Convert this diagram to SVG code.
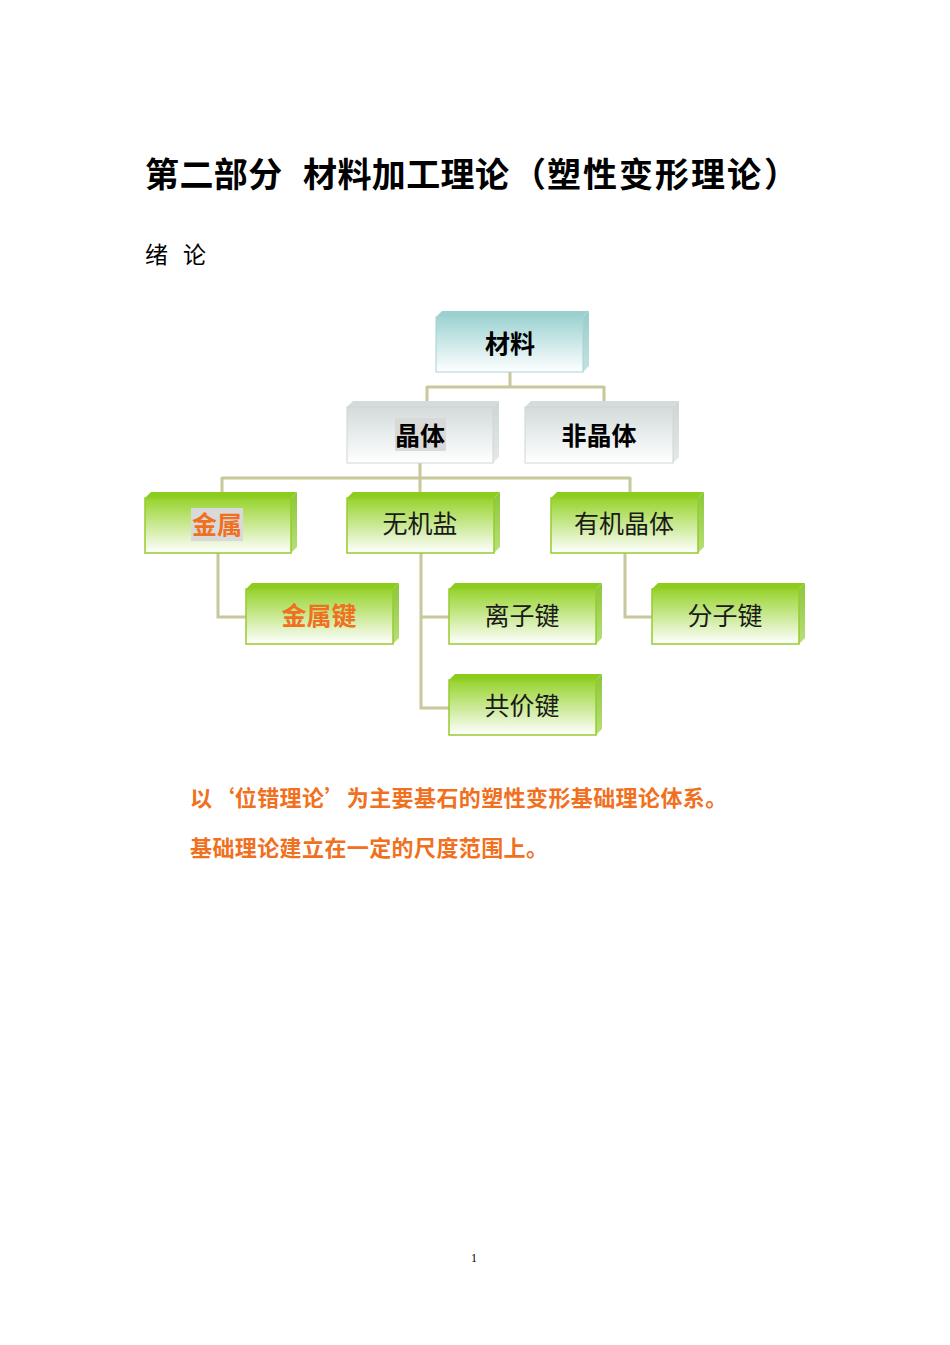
<svg xmlns="http://www.w3.org/2000/svg" width="950" height="1345" viewBox="0 0 950 1345">
<defs>
<linearGradient id="gTeal" x1="0" y1="0" x2="0" y2="1"><stop offset="0" stop-color="#9fd3d3"/><stop offset="1" stop-color="#ffffff"/></linearGradient>
<linearGradient id="gGray" x1="0" y1="0" x2="0" y2="1"><stop offset="0" stop-color="#d3dbdb"/><stop offset="1" stop-color="#ffffff"/></linearGradient>
<linearGradient id="gGreen" x1="0" y1="0" x2="0" y2="1"><stop offset="0" stop-color="#96d22e"/><stop offset="0.15" stop-color="#a6da4c"/><stop offset="1" stop-color="#ffffff"/></linearGradient>
<linearGradient id="gGreenSide" x1="0" y1="0" x2="0" y2="1"><stop offset="0" stop-color="#8cc63a"/><stop offset="1" stop-color="#b8e07a"/></linearGradient>
<linearGradient id="gTealSide" x1="0" y1="0" x2="0" y2="1"><stop offset="0" stop-color="#98cccc"/><stop offset="1" stop-color="#c4e2e2"/></linearGradient>
<linearGradient id="gGraySide" x1="0" y1="0" x2="0" y2="1"><stop offset="0" stop-color="#cdd5d5"/><stop offset="1" stop-color="#e4e9e9"/></linearGradient>
</defs>
<style>
.t{font-family:"Noto Sans CJK SC","Noto Sans CJK JP",sans-serif;}
.ttl{font-size:34px;font-weight:bold;fill:#000;letter-spacing:0.4px;}
.ttl.w{letter-spacing:2px;}
.bx{font-family:"Noto Sans CJK SC",sans-serif;font-size:25px;text-anchor:middle;fill:#1a1a1a;}
.b{font-weight:bold;fill:#000;}
.or{fill:#f0701e;font-weight:bold;}
.body{font-size:22px;font-weight:bold;fill:#f0701e;letter-spacing:0.4px;}
.conn{fill:none;stroke:#c8c89c;stroke-width:3;}
.teal .f{fill:url(#gTeal);stroke:#a8d2d2;stroke-width:1;}
.teal .tp{fill:#9ccfcf;}
.teal .sd{fill:url(#gTealSide);}
.gray .f{fill:url(#gGray);stroke:#d0d6d6;stroke-width:1;}
.gray .tp{fill:#d4dbdb;}
.gray .sd{fill:url(#gGraySide);}
.green .f{fill:url(#gGreen);stroke:#96cc2c;stroke-width:1.5;}
.green .tp{fill:#8ccc1c;}
.green .sd{fill:url(#gGreenSide);}
.hl{fill:#d9d9d9;}
</style>
<rect width="950" height="1345" fill="#ffffff"/>

<text class="t ttl" x="145" y="187">第二部分</text>
<text class="t ttl" x="303" y="187">材料加工理论</text>
<text class="t ttl" x="512" y="187">（</text>
<text class="t ttl w" x="547" y="187">塑性变形理论</text>
<text class="t ttl" x="764" y="187">）</text>
<text class="t" x="145" y="263" font-size="23" fill="#000">绪</text>
<text class="t" x="183" y="263" font-size="23" fill="#000">论</text>

<g id="connectors">
<path class="conn" d="M510 372V387M427 387H604M427 386V401M604 386V401"/>
<path class="conn" d="M420 463V478M222 478H630M222 477V492M420 477V492M630 477V492"/>
<path class="conn" d="M218 553V617H246"/>
<path class="conn" d="M421 553V708H449M421 617H449"/>
<path class="conn" d="M625 553V617H652"/>
</g>

<g id="n-cailiao" class="teal">
<polygon class="tp" points="436,317 442,311 589,311 583,317"/>
<polygon class="sd" points="583,317 589,311 589,366 583,372"/>
<rect class="f" x="436" y="317" width="147" height="55"/>
<text class="bx b" x="510" y="353">材料</text>
</g>
<g id="n-jingti" class="gray">
<polygon class="tp" points="347,407 353,401 499,401 493,407"/>
<polygon class="sd" points="493,407 499,401 499,457 493,463"/>
<rect class="f" x="347" y="407" width="146" height="56"/>
<rect class="hl" x="395" y="418" width="51" height="33"/>
<text class="bx b" x="420" y="445">晶体</text>
</g>
<g id="n-feijingti" class="gray">
<polygon class="tp" points="525,407 531,401 679,401 673,407"/>
<polygon class="sd" points="673,407 679,401 679,457 673,463"/>
<rect class="f" x="525" y="407" width="148" height="56"/>
<text class="bx b" x="599" y="445">非晶体</text>
</g>
<g id="n-jinshu" class="green">
<polygon class="tp" points="145,498 151,492 297,492 291,498"/>
<polygon class="sd" points="291,498 297,492 297,547 291,553"/>
<rect class="f" x="145" y="498" width="146" height="55"/>
<rect class="hl" x="191" y="508" width="52" height="33"/>
<text class="bx or" x="217" y="534">金属</text>
</g>
<g id="n-wujiyan" class="green">
<polygon class="tp" points="347,498 353,492 500,492 494,498"/>
<polygon class="sd" points="494,498 500,492 500,547 494,553"/>
<rect class="f" x="347" y="498" width="147" height="55"/>
<text class="bx" x="420" y="533">无机盐</text>
</g>
<g id="n-youjijingti" class="green">
<polygon class="tp" points="551,498 557,492 704,492 698,498"/>
<polygon class="sd" points="698,498 704,492 704,547 698,553"/>
<rect class="f" x="551" y="498" width="147" height="55"/>
<text class="bx" x="624" y="533">有机晶体</text>
</g>
<g id="n-jinshujian" class="green">
<polygon class="tp" points="246,589 252,583 399,583 393,589"/>
<polygon class="sd" points="393,589 399,583 399,638 393,644"/>
<rect class="f" x="246" y="589" width="147" height="55"/>
<text class="bx or" x="319" y="625">金属键</text>
</g>
<g id="n-lizijian" class="green">
<polygon class="tp" points="449,589 455,583 602,583 596,589"/>
<polygon class="sd" points="596,589 602,583 602,638 596,644"/>
<rect class="f" x="449" y="589" width="147" height="55"/>
<text class="bx" x="522" y="625">离子键</text>
</g>
<g id="n-fenzijian" class="green">
<polygon class="tp" points="652,589 658,583 805,583 799,589"/>
<polygon class="sd" points="799,589 805,583 805,638 799,644"/>
<rect class="f" x="652" y="589" width="147" height="55"/>
<text class="bx" x="725" y="625">分子键</text>
</g>
<g id="n-gongjiajian" class="green">
<polygon class="tp" points="449,680 455,674 602,674 596,680"/>
<polygon class="sd" points="596,680 602,674 602,729 596,735"/>
<rect class="f" x="449" y="680" width="147" height="55"/>
<text class="bx" x="522" y="715">共价键</text>
</g>

<text class="t body" x="190" y="806">以‘位错理论’为主要基石的塑性变形基础理论体系。</text>
<text class="t body" x="190" y="856">基础理论建立在一定的尺度范围上。</text>

<text x="474" y="1262" font-family="Liberation Serif, serif" font-size="12" text-anchor="middle" fill="#000">1</text>
</svg>
